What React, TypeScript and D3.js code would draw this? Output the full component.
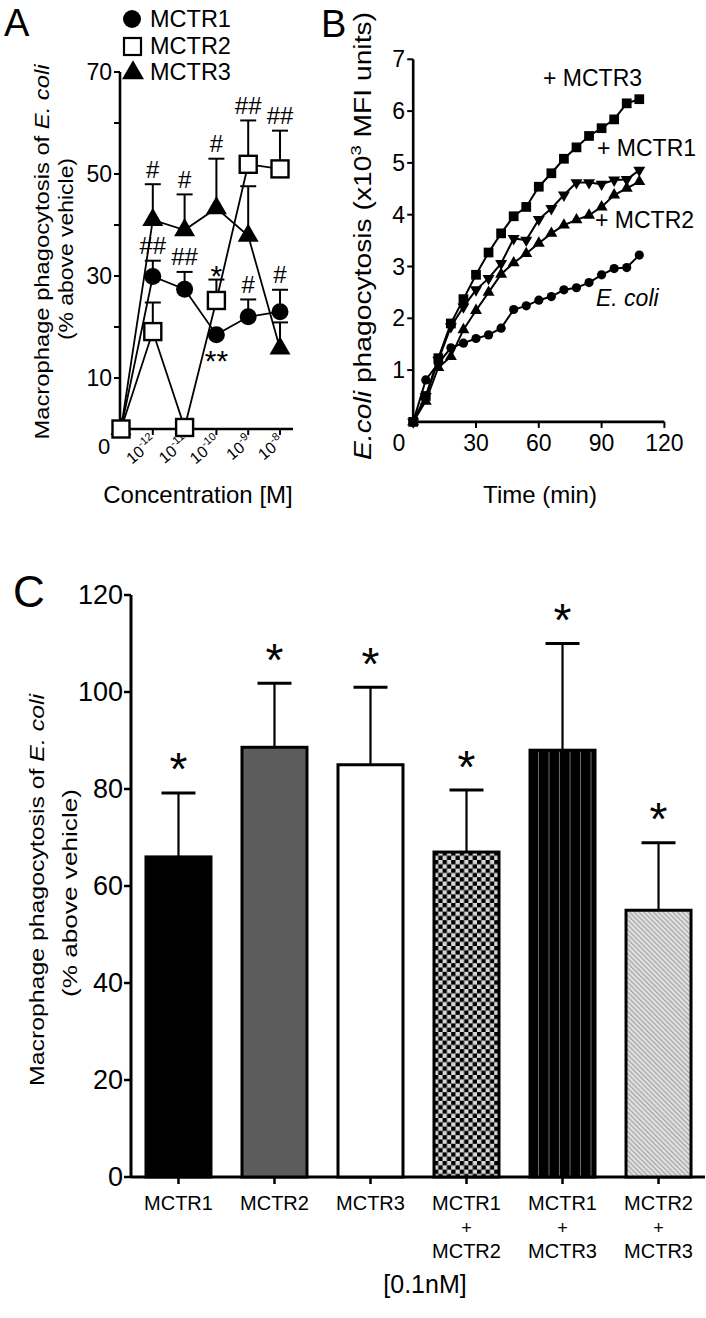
import React from 'react';
import * as d3 from 'd3';

const FONT = '"Liberation Sans", Arial, Helvetica, sans-serif';

// ---------- Panel A data ----------
const concExponents = ['-12', '-11', '-10', '-9', '-8'];
const concIndex = [0, 1, 2, 3, 4, 5];
const mctr1Mean = [0, 29.9, 27.4, 18.5, 22.0, 23.0];
const mctr1Sem = [0, 3.1, 3.4, 0, 3.4, 4.3];
const mctr2Mean = [0, 19.1, 0.3, 25.2, 51.9, 51.0];
const mctr2Sem = [0, 5.7, 0, 4.1, 8.6, 7.5];
const mctr3Mean = [0, 41.0, 39.0, 43.3, 37.9, 15.8];
const mctr3Sem = [0, 7.0, 7.0, 9.7, 9.7, 5.1];
const yTicksA = [10, 20, 30, 40, 50, 60, 70];
const yTickLabelsA = [10, 30, 50, 70];
const legendA = ['MCTR1', 'MCTR2', 'MCTR3'];
// annotations: series, index, text, where
const annotA = [
  { s: 3, i: 1, t: '#', pos: 'above' },
  { s: 3, i: 2, t: '#', pos: 'above' },
  { s: 3, i: 3, t: '#', pos: 'above' },
  { s: 2, i: 4, t: '##', pos: 'above' },
  { s: 2, i: 5, t: '##', pos: 'above' },
  { s: 1, i: 1, t: '##', pos: 'above' },
  { s: 1, i: 2, t: '##', pos: 'above' },
  { s: 2, i: 3, t: '*', pos: 'above' },
  { s: 1, i: 3, t: '**', pos: 'below' },
  { s: 1, i: 4, t: '#', pos: 'above' },
  { s: 1, i: 5, t: '#', pos: 'above' },
];

// ---------- Panel B data ----------
const timesB = [0, 6, 12, 18, 24, 30, 36, 42, 48, 54, 60, 66, 72, 78, 84, 90, 96, 102, 108];
const ecoliB = [0, 0.81, 1.13, 1.43, 1.52, 1.61, 1.68, 1.81, 2.17, 2.24, 2.35, 2.42, 2.55, 2.59, 2.69, 2.84, 2.96, 2.98, 3.22];
const mctr1B = [0, 0.49, 1.19, 1.84, 2.22, 2.55, 2.77, 3.06, 3.54, 3.51, 3.91, 4.12, 4.38, 4.62, 4.62, 4.59, 4.67, 4.68, 4.86];
const mctr2B = [0, 0.40, 1.05, 1.26, 1.78, 2.15, 2.50, 2.85, 3.07, 3.25, 3.45, 3.64, 3.80, 3.90, 3.99, 4.15, 4.38, 4.51, 4.64];
const mctr3B = [0, 0.50, 1.23, 1.90, 2.37, 2.84, 3.27, 3.64, 3.97, 4.15, 4.54, 4.80, 5.08, 5.30, 5.52, 5.67, 5.84, 6.15, 6.23];
const yTicksB = [1, 2, 3, 4, 5, 6, 7];
const xTicksB = [30, 60, 90, 120];

// ---------- Panel C data ----------
const catsC = [['MCTR1'], ['MCTR2'], ['MCTR3'], ['MCTR1', '+', 'MCTR2'], ['MCTR1', '+', 'MCTR3'], ['MCTR2', '+', 'MCTR3']];
const meanC = [66, 88.6, 85, 67, 88, 55];
const semC = [13.2, 13.2, 16, 12.8, 22, 13.9];
const fillC = ['#000000', '#5c5c5c', '#ffffff', 'url(#checker)', 'url(#vstripe)', 'url(#diag)'];
const yTicksC = [0, 20, 40, 60, 80, 100, 120];

export default function App() {
  // scales A
  const xA = d3.scaleLinear().domain([0, 5]).range([121, 280]);
  const yA = d3.scaleLinear().domain([0, 70]).range([429, 72]);
  const seriesA = [
    { mean: mctr1Mean, sem: mctr1Sem },
    { mean: mctr2Mean, sem: mctr2Sem },
    { mean: mctr3Mean, sem: mctr3Sem },
  ];
  const lineA = d3.line<number>().x((_, i) => xA(concIndex[i])).y((d) => yA(d));
  const triA = d3.symbol().type(d3.symbolTriangle).size(190)();
  const triALeg = d3.symbol().type(d3.symbolTriangle).size(210)();

  // scales B
  const xB = d3.scaleLinear().domain([0, 120]).range([413.2, 664.4]);
  const yB = d3.scaleLinear().domain([0, 7]).range([421.9, 59.3]);
  const lineB = d3.line<number>().x((_, i) => xB(timesB[i])).y((d) => yB(d));
  const sqB = d3.symbol().type(d3.symbolSquare).size(95)();
  const triB = d3.symbol().type(d3.symbolTriangle).size(62)();

  // scales C
  const xC = d3.scaleBand<number>().domain(d3.range(catsC.length)).range([131, 706]).paddingInner(0.323).paddingOuter(0.156);
  const yC = d3.scaleLinear().domain([0, 120]).range([1177, 595]);

  const starY = (cy: number, fs: number) => cy + 0.23 * fs;

  return (
    <svg width={706} height={1318} style={{ position: 'absolute', left: 0, top: 0, background: '#fff' }} fontFamily={FONT}>
      <defs>
        <pattern id="checker" patternUnits="userSpaceOnUse" width={8.6} height={8.6} x={xC(3)} y={0}>
          <rect width={8.6} height={8.6} fill="#d6d6d6" />
          <rect width={4.3} height={4.3} fill="#000" />
          <rect x={4.3} y={4.3} width={4.3} height={4.3} fill="#000" />
        </pattern>
        <pattern id="vstripe" patternUnits="userSpaceOnUse" width={10.5} height={10} x={(xC(4) as number) - 1.5} y={0}>
          <rect width={10.5} height={10} fill="#000" />
          <rect x={9.5} width={3} height={10} fill="#6e6e6e" />
        </pattern>
        <pattern id="diag" patternUnits="userSpaceOnUse" width={3.4} height={3.4} patternTransform="rotate(-45)">
          <rect width={3.4} height={3.4} fill="#e2e2e2" />
          <rect width={1.3} height={3.4} fill="#a8a8a8" />
        </pattern>
      </defs>

      {/* ================= Panel A ================= */}
      <text x={4} y={36} fontSize={38}>A</text>
      {/* legend */}
      <circle cx={132} cy={19} r={9} fill="#000" />
      <rect x={124} y={38} width={17} height={17} fill="#fff" stroke="#000" strokeWidth={2.2} />
      <path d={triALeg!} transform="translate(133,73)" fill="#000" />
      {legendA.map((l, i) => (
        <text key={l} x={150} y={19 + i * 26.5} fontSize={23.5} dominantBaseline="central">{l}</text>
      ))}
      {/* axes */}
      <line x1={120} y1={yA(70)} x2={120} y2={yA(0)} stroke="#000" strokeWidth={2.6} />
      <line x1={120} y1={yA(0)} x2={293} y2={yA(0)} stroke="#000" strokeWidth={2.6} />
      {yTicksA.map((t) => (
        <line key={t} x1={114} x2={120} y1={yA(t)} y2={yA(t)} stroke="#000" strokeWidth={2} />
      ))}
      {yTickLabelsA.map((t) => (
        <text key={t} x={112} y={yA(t)} fontSize={23} textAnchor="end" dominantBaseline="central">{t}</text>
      ))}
      <text x={104} y={446} fontSize={22} textAnchor="middle" dominantBaseline="central">0</text>
      {concExponents.map((e, i) => (
        <g key={e}>
          <line x1={xA(i + 1)} x2={xA(i + 1)} y1={yA(0)} y2={yA(0) + 6} stroke="#000" strokeWidth={2} />
          <text transform={`translate(${xA(i + 1) + 5},${443}) rotate(-40)`} fontSize={16} textAnchor="end">
            10<tspan dy={-7} fontSize={11}>{e}</tspan>
          </text>
        </g>
      ))}
      <text x={198} y={494} fontSize={24} textAnchor="middle" dominantBaseline="central">Concentration [M]</text>
      <text transform="translate(41,252) rotate(-90)" fontSize={21} textAnchor="middle" dominantBaseline="central" textLength={375} lengthAdjust="spacingAndGlyphs">
        Macrophage phagocytosis of <tspan fontStyle="italic">E. coli</tspan>
      </text>
      <text transform="translate(65,249) rotate(-90)" fontSize={21} textAnchor="middle" dominantBaseline="central" textLength={182} lengthAdjust="spacingAndGlyphs">
        (% above vehicle)
      </text>
      {/* lines */}
      {seriesA.map((s, k) => (
        <path key={k} d={lineA(s.mean)!} fill="none" stroke="#000" strokeWidth={1.8} />
      ))}
      {/* error bars */}
      {seriesA.map((s, k) =>
        s.mean.map((m, i) =>
          s.sem[i] > 0 ? (
            <g key={`${k}-${i}`} stroke="#000" strokeWidth={2}>
              <line x1={xA(i)} x2={xA(i)} y1={yA(m)} y2={yA(m + s.sem[i])} />
              <line x1={xA(i) - 8} x2={xA(i) + 8} y1={yA(m + s.sem[i])} y2={yA(m + s.sem[i])} />
            </g>
          ) : null
        )
      )}
      {/* markers */}
      {mctr1Mean.map((m, i) => (
        <circle key={`c${i}`} cx={xA(i)} cy={yA(m)} r={8.5} fill="#000" />
      ))}
      {mctr3Mean.map((m, i) => (
        <path key={`t${i}`} d={triA!} transform={`translate(${xA(i)},${yA(m)})`} fill="#000" />
      ))}
      {mctr2Mean.map((m, i) => (
        <rect key={`s${i}`} x={xA(i) - 8.5} y={yA(m) - 8.5} width={17} height={17} fill="#fff" stroke="#000" strokeWidth={2.4} />
      ))}
      {/* annotations */}
      {annotA.map((a, j) => {
        const s = seriesA[a.s - 1];
        const cx = xA(a.i);
        const isStar = a.t.includes('*');
        const fs = isStar ? 30 : 24;
        let cy: number;
        if (a.pos === 'above') {
          cy = yA(s.mean[a.i] + s.sem[a.i]) - (isStar ? 11 : 15);
        } else {
          cy = yA(s.mean[a.i]) + 19;
        }
        const y = isStar ? starY(cy, fs) : cy;
        return (
          <text key={j} x={cx} y={y} fontSize={fs} textAnchor="middle" dominantBaseline="central">{a.t}</text>
        );
      })}

      {/* ================= Panel B ================= */}
      <text x={321} y={37} fontSize={38}>B</text>
      <line x1={xB(0)} y1={yB(7)} x2={xB(0)} y2={yB(0)} stroke="#000" strokeWidth={2.6} />
      <line x1={xB(0)} y1={yB(0)} x2={xB(120)} y2={yB(0)} stroke="#000" strokeWidth={2.6} />
      {yTicksB.map((t) => (
        <g key={t}>
          <line x1={xB(0) - 6} x2={xB(0)} y1={yB(t)} y2={yB(t)} stroke="#000" strokeWidth={2} />
          <text x={405} y={yB(t)} fontSize={23} textAnchor="end" dominantBaseline="central">{t}</text>
        </g>
      ))}
      {xTicksB.map((t) => (
        <g key={t}>
          <line x1={xB(t)} x2={xB(t)} y1={yB(0)} y2={yB(0) + 6} stroke="#000" strokeWidth={2} />
          <text x={xB(t)} y={443} fontSize={23} textAnchor="middle" dominantBaseline="central">{t}</text>
        </g>
      ))}
      <text x={399} y={443} fontSize={23} textAnchor="middle" dominantBaseline="central">0</text>
      <text x={540} y={494} fontSize={24} textAnchor="middle" dominantBaseline="central">Time (min)</text>
      <text transform="translate(363,236) rotate(-90)" fontSize={23} textAnchor="middle" dominantBaseline="central" textLength={448} lengthAdjust="spacingAndGlyphs">
        <tspan fontStyle="italic">E.coli</tspan> phagocytosis (x10<tspan dy={-8} fontSize={15}>3</tspan><tspan dy={8}> MFI units)</tspan>
      </text>
      {[ecoliB, mctr2B, mctr1B, mctr3B].map((s, k) => (
        <path key={k} d={lineB(s)!} fill="none" stroke="#000" strokeWidth={2} />
      ))}
      {ecoliB.map((v, i) => (
        <circle key={`e${i}`} cx={xB(timesB[i])} cy={yB(v)} r={4.6} fill="#000" />
      ))}
      {mctr2B.map((v, i) => (
        <path key={`m2${i}`} d={triB!} transform={`translate(${xB(timesB[i])},${yB(v)})`} fill="#000" />
      ))}
      {mctr1B.map((v, i) => (
        <path key={`m1${i}`} d={triB!} transform={`translate(${xB(timesB[i])},${yB(v)}) rotate(180)`} fill="#000" />
      ))}
      {mctr3B.map((v, i) => (
        <path key={`m3${i}`} d={sqB!} transform={`translate(${xB(timesB[i])},${yB(v)})`} fill="#000" />
      ))}
      <text x={543} y={78} fontSize={23} dominantBaseline="central">+ MCTR3</text>
      <text x={597} y={148} fontSize={23} dominantBaseline="central">+ MCTR1</text>
      <text x={595} y={220} fontSize={23} dominantBaseline="central">+ MCTR2</text>
      <text x={596} y={298} fontSize={23} fontStyle="italic" dominantBaseline="central">E. coli</text>

      {/* ================= Panel C ================= */}
      <text x={13} y={607} fontSize={44}>C</text>
      <line x1={131} y1={yC(120)} x2={131} y2={yC(0)} stroke="#000" strokeWidth={3} />
      <line x1={131} y1={yC(0)} x2={705} y2={yC(0)} stroke="#000" strokeWidth={3} />
      {yTicksC.map((t) => (
        <g key={t}>
          <line x1={124} x2={131} y1={yC(t)} y2={yC(t)} stroke="#000" strokeWidth={2.5} />
          <text x={123} y={yC(t)} fontSize={27} textAnchor="end" dominantBaseline="central">{t}</text>
        </g>
      ))}
      <text transform="translate(36,890) rotate(-90)" fontSize={21} textAnchor="middle" dominantBaseline="central" textLength={392} lengthAdjust="spacingAndGlyphs">
        Macrophage phagocytosis of <tspan fontStyle="italic">E. coli</tspan>
      </text>
      <text transform="translate(69,893) rotate(-90)" fontSize={21} textAnchor="middle" dominantBaseline="central" textLength={208} lengthAdjust="spacingAndGlyphs">
        (% above vehicle)
      </text>
      {meanC.map((m, i) => {
        const x0 = xC(i) as number;
        const bw = xC.bandwidth();
        const cx = x0 + bw / 2;
        const top = yC(m + semC[i]);
        return (
          <g key={i}>
            <line x1={cx} x2={cx} y1={yC(m)} y2={top} stroke="#000" strokeWidth={2.2} />
            <line x1={cx - 17} x2={cx + 17} y1={top} y2={top} stroke="#000" strokeWidth={3} />
            <rect x={x0} y={yC(m)} width={bw} height={yC(0) - yC(m)} fill={fillC[i]} stroke="#000" strokeWidth={3} />
            <text x={cx} y={starY(top - 34, 46)} fontSize={46} textAnchor="middle" dominantBaseline="central">*</text>
            <line x1={cx} x2={cx} y1={yC(0)} y2={yC(0) + 7} stroke="#000" strokeWidth={2.5} />
            {catsC[i].map((ln, j) => (
              <text key={j} x={cx} y={1203 + [0, 25, 48][j]} fontSize={ln === '+' ? 18 : 20} textAnchor="middle" dominantBaseline="central">{ln}</text>
            ))}
          </g>
        );
      })}
      <text x={425} y={1284} fontSize={25} textAnchor="middle" dominantBaseline="central">[0.1nM]</text>
    </svg>
  );
}
